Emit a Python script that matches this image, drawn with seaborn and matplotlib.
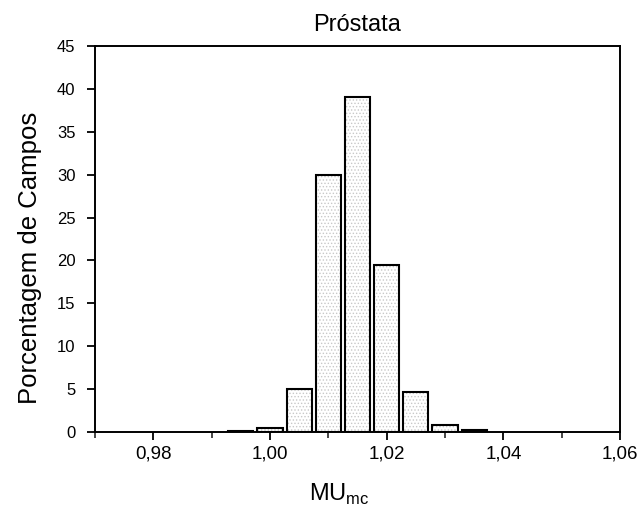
import matplotlib
matplotlib.use("Agg")
import matplotlib.pyplot as plt
from matplotlib.ticker import FixedLocator, MultipleLocator, FixedFormatter
import seaborn as sns
import numpy as np
import pandas as pd

# ---- data ----
bin_centers = [0.995, 1.000, 1.005, 1.010, 1.015, 1.020, 1.025, 1.030, 1.035]
percent = [0.15, 0.5, 5.0, 30.0, 39.0, 19.5, 4.7, 0.8, 0.2]
bin_width = 0.005
x_ticks = [0.98, 1.00, 1.02, 1.04, 1.06]
x_tick_labels = ["0,98", "1,00", "1,02", "1,04", "1,06"]
y_ticks = [0, 5, 10, 15, 20, 25, 30, 35, 40, 45]
title = "Próstata"
ylabel = "Porcentagem de Campos"
xlabel = r"MU$_{\mathrm{mc}}$"

sns.set_theme(style="ticks")
plt.rcParams['font.family'] = ['Liberation Sans', 'DejaVu Sans']
plt.rcParams['mathtext.fontset'] = 'custom'
plt.rcParams['mathtext.rm'] = 'Liberation Sans'
plt.rcParams['hatch.linewidth'] = 0.6

df = pd.DataFrame({"mu": bin_centers, "pct": percent})
edges = [c - bin_width / 2 for c in bin_centers] + [bin_centers[-1] + bin_width / 2]

fig = plt.figure(figsize=(6.43, 5.13), dpi=100)
ax = fig.add_axes([95 / 643, 1 - 432 / 513, (620 - 95) / 643, (432 - 46) / 513])

# hatched light fill
sns.histplot(data=df, x="mu", weights="pct", bins=edges, shrink=0.86, ax=ax,
             color="white", edgecolor="#c8c8c8", linewidth=0, hatch=".....",
             alpha=1, zorder=2)
# black outlines
sns.histplot(data=df, x="mu", weights="pct", bins=edges, shrink=0.86, ax=ax,
             fill=False, color="black", linewidth=1.5, zorder=3)

ax.set_xlim(0.97, 1.06)
ax.set_ylim(0, 45)
ax.xaxis.set_major_locator(FixedLocator(x_ticks))
ax.xaxis.set_major_formatter(FixedFormatter(x_tick_labels))
ax.xaxis.set_minor_locator(MultipleLocator(0.01))
ax.yaxis.set_major_locator(FixedLocator(y_ticks))

for sp in ax.spines.values():
    sp.set_visible(True)
    sp.set_linewidth(1.4)
    sp.set_color("black")

ax.tick_params(axis="x", which="major", direction="out", length=6, width=1.3,
               labelsize=13.5, colors="black", pad=4)
ax.tick_params(axis="x", which="minor", direction="out", length=4, width=1.2)
ax.tick_params(axis="y", which="major", direction="out", length=6, width=1.3,
               labelsize=12, colors="black", pad=8)
ax.tick_params(top=False, right=False)

ax.set_title(title, fontsize=17, color="black", pad=11)
ax.set_ylabel(ylabel, fontsize=18.5, color="black")
ax.set_xlabel(xlabel, fontsize=17, color="black")
ax.yaxis.set_label_coords(-0.10, 0.45)
ax.xaxis.set_label_coords(0.465, -0.13)

fig.savefig("out.png", dpi=100)
